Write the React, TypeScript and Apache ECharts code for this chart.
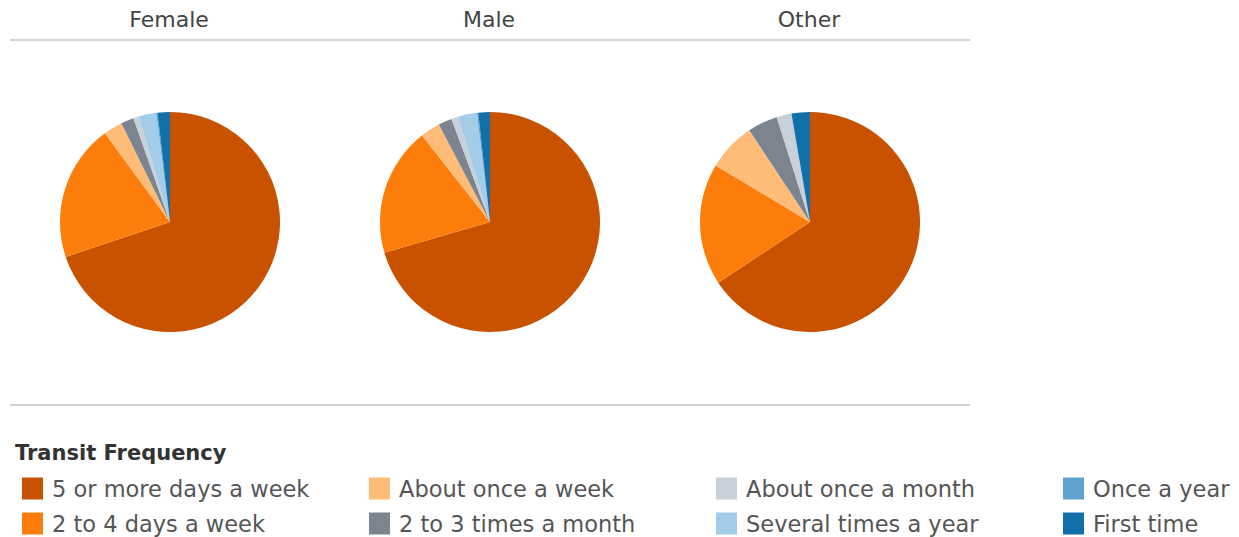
import React, { useEffect, useRef } from "react";
import * as echarts from "echarts";

const categories = [
  "5 or more days a week",
  "2 to 4 days a week",
  "About once a week",
  "2 to 3 times a month",
  "About once a month",
  "Several times a year",
  "Once a year",
  "First time",
];
const colors = ["#c85200", "#fc7d0b", "#ffbc79", "#7b848f", "#c8d0d9", "#a3cce9", "#5fa2ce", "#1170aa"];
const panels = ["Female", "Male", "Other"];
const femaleValues = [70.0, 20.1, 2.8, 1.9, 0.8, 2.6, 0.2, 1.8];
const maleValues = [70.5, 18.9, 2.9, 2.0, 1.0, 2.8, 0.2, 1.7];
const otherValues = [65.7, 17.9, 7.1, 4.4, 2.2, 0, 0, 2.7];
const seriesValues = [femaleValues, maleValues, otherValues];
const legendTitle = "Transit Frequency";

const FONT = "'DejaVu Sans', sans-serif";

export default function App() {
  const ref = useRef<HTMLDivElement>(null);
  useEffect(() => {
    document.body.style.margin = "0";
    const chart = echarts.init(ref.current!, null, { renderer: "svg" });
    const centersX = [170, 490, 810];
    const legendCols = [22, 369, 716, 1063];
    const option: any = {
      animation: false,
      color: colors,
      title: [
        ...panels.map((p, i) => ({
          text: p,
          left: centersX[i] - 1,
          top: 8,
          padding: 0,
          textAlign: "center",
          textStyle: { fontFamily: FONT, fontSize: 22, fontWeight: "normal", color: "#444" },
        })),
        {
          text: legendTitle,
          left: 15,
          top: 442,
          padding: 0,
          textStyle: { fontFamily: FONT, fontSize: 21, fontWeight: "bold", color: "#333" },
        },
      ],
      graphic: [
        { type: "line", shape: { x1: 10, y1: 40, x2: 970, y2: 40 }, style: { stroke: "#d4d4d4", lineWidth: 2 } },
        { type: "line", shape: { x1: 10, y1: 405, x2: 970, y2: 405 }, style: { stroke: "#d4d4d4", lineWidth: 2 } },
      ],
      legend: legendCols.map((x, c) => ({
        orient: "vertical",
        left: x,
        top: 477,
        padding: 0,
        itemWidth: 21,
        itemHeight: 22,
        itemGap: 12,
        icon: "rect",
        selectedMode: false,
        data: categories.slice(c * 2, c * 2 + 2),
        textStyle: { fontFamily: FONT, fontSize: 22.5, color: "#555", padding: [0, 0, 0, 4] },
      })),
      series: seriesValues.map((vals, i) => ({
        type: "pie",
        name: panels[i],
        center: [centersX[i], 222],
        radius: 110,
        startAngle: 90,
        clockwise: true,
        label: { show: false },
        labelLine: { show: false },
        emphasis: { disabled: true },
        itemStyle: { borderWidth: 0 },
        data: categories.map((c, k) => ({ name: c, value: vals[k], itemStyle: { color: colors[k] } })),
      })),
    };
    chart.setOption(option);
    return () => chart.dispose();
  }, []);
  return <div ref={ref} style={{ width: 1239, height: 537 }} />;
}
